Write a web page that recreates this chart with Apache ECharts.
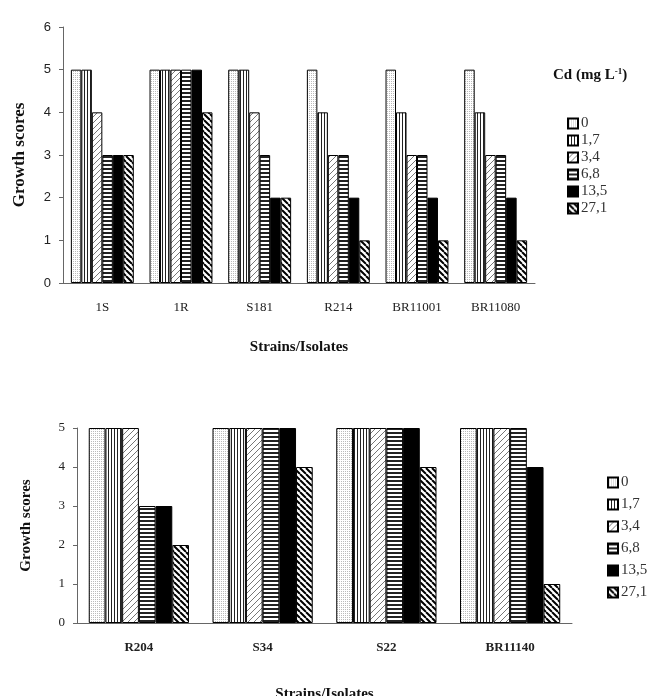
<!DOCTYPE html>
<html>
<head>
<meta charset="utf-8">
<script src="https://cdn.jsdelivr.net/npm/echarts@6/dist/echarts.min.js"></script>
<style>
	html, body { margin: 0; padding: 0; background: #fff; }
	#chart { width: 647px; height: 696px; }
</style>
</head>
<body>
<div id="chart"></div>
<script>
// Cd concentration levels (legend)
var levels = ['0', '1,7', '3,4', '6,8', '13,5', '27,1'];

// upper panel
var topCats = ['1S', '1R', 'S181', 'R214', 'BR11001', 'BR11080'];
var top_0    = [5, 5, 5, 5, 5, 5];
var top_1_7  = [5, 5, 5, 4, 4, 4];
var top_3_4  = [4, 5, 4, 3, 3, 3];
var top_6_8  = [3, 5, 3, 3, 3, 3];
var top_13_5 = [3, 5, 2, 2, 2, 2];
var top_27_1 = [3, 4, 2, 1, 1, 1];
var topTicks = [0, 1, 2, 3, 4, 5, 6];

// lower panel
var botCats = ['R204', 'S34', 'S22', 'BR11140'];
var bot_0    = [5, 5, 5, 5];
var bot_1_7  = [5, 5, 5, 5];
var bot_3_4  = [5, 5, 5, 5];
var bot_6_8  = [3, 5, 5, 5];
var bot_13_5 = [3, 5, 5, 4];
var bot_27_1 = [2, 4, 4, 1];
var botTicks = [0, 1, 2, 3, 4, 5];

var topSeries = [top_0, top_1_7, top_3_4, top_6_8, top_13_5, top_27_1];
var botSeries = [bot_0, bot_1_7, bot_3_4, bot_6_8, bot_13_5, bot_27_1];

// fill patterns
function pat(w, h, draw)
{
	var c = document.createElement('canvas');
	c.width = w; c.height = h;
	var g = c.getContext('2d');
	g.fillStyle = '#fff';
	g.fillRect(0, 0, w, h);
	draw(g, w, h);
	return { image: c, repeat: 'repeat' };
}

function diag(g, n, forward, color, lw)
{
	g.strokeStyle = color;
	g.lineWidth = lw;
	g.beginPath();
	for (var k = -1; k <= 1; k++)
	{
		if (forward) { g.moveTo(k * n, n); g.lineTo(k * n + n, 0); }
		else { g.moveTo(k * n, 0); g.lineTo(k * n + n, n); }
	}
	g.stroke();
}

var fills = [
	pat(2, 2, function(g) { g.fillStyle = '#bbb'; g.fillRect(1, 1, 1, 1); }),
	pat(3, 1, function(g) { g.fillStyle = '#222'; g.fillRect(0, 0, 1, 1); }),
	pat(6, 6, function(g) { diag(g, 6, true, '#777', 1); }),
	pat(1, 4, function(g) { g.fillStyle = '#222'; g.fillRect(0, 0, 1, 2); }),
	'#000',
	pat(6, 6, function(g) { diag(g, 6, false, '#000', 2); })
];

var serif = '"Liberation Serif", "DejaVu Serif", serif';
var sans = '"Liberation Sans", Arial, sans-serif';

var series = [];
levels.forEach(function(lv, i)
{
	series.push({
		name: lv, type: 'bar', xAxisIndex: 0, yAxisIndex: 0,
		barGap: '0%', barCategoryGap: '20%',
		itemStyle: { color: fills[i], borderColor: '#000', borderWidth: 1 },
		data: topSeries[i]
	});
});
levels.forEach(function(lv, i)
{
	series.push({
		name: lv, type: 'bar', xAxisIndex: 1, yAxisIndex: 1,
		barGap: '0%', barCategoryGap: '19%',
		itemStyle: { color: fills[i], borderColor: '#000', borderWidth: 1 },
		data: botSeries[i]
	});
});

var chart = echarts.init(document.getElementById('chart'), null, { renderer: 'canvas' });

chart.setOption({
	animation: false,
	backgroundColor: '#fff',
	title: {
		left: 548, top: 62,
		text: '{a|Cd (mg L}{s|-1}{a|)}',
		textStyle: {
			rich: {
				a: { fontFamily: serif, fontWeight: 'bold', fontSize: 15, color: '#111' },
				s: { fontFamily: serif, fontWeight: 'bold', fontSize: 9, color: '#111', verticalAlign: 'top', padding: [0, 0, 8, 0] }
			}
		}
	},
	legend: [
		{
			data: levels, orient: 'vertical', left: 562, top: 111, icon: 'rect',
			itemWidth: 10, itemHeight: 10, itemGap: 2,
			textStyle: { fontFamily: serif, fontSize: 15, color: '#333', padding: [0, 0, 0, -2] },
			selectedMode: false
		},
		{
			data: levels, orient: 'vertical', left: 602, top: 470, icon: 'rect',
			itemWidth: 10, itemHeight: 10, itemGap: 7,
			textStyle: { fontFamily: serif, fontSize: 15, color: '#333', padding: [0, 0, 0, -2] },
			selectedMode: false
		}
	],
	grid: [
		{ left: 63, right: 112, top: 27, bottom: 413, outerBoundsMode: 'none', containLabel: false },
		{ left: 77, right: 75, top: 428, bottom: 73, outerBoundsMode: 'none', containLabel: false }
	],
	xAxis: [
		{
			gridIndex: 0, type: 'category', data: topCats,
			axisLine: { lineStyle: { color: '#666' } },
			axisTick: { length: 5, lineStyle: { color: '#666' } },
			axisLabel: { fontFamily: serif, fontSize: 13, color: '#222', margin: 18 },
			name: 'Strains/Isolates', nameLocation: 'middle', nameGap: 57,
			nameTextStyle: { fontFamily: serif, fontWeight: 'bold', fontSize: 15, color: '#111' }
		},
		{
			gridIndex: 1, type: 'category', data: botCats,
			axisLine: { lineStyle: { color: '#666' } },
			axisTick: { length: 5, lineStyle: { color: '#666' } },
			axisLabel: { fontFamily: serif, fontWeight: 'bold', fontSize: 13, color: '#222', margin: 18 },
			name: 'Strains/Isolates', nameLocation: 'middle', nameGap: 64,
			nameTextStyle: { fontFamily: serif, fontWeight: 'bold', fontSize: 15, color: '#111' }
		}
	],
	yAxis: [
		{
			gridIndex: 0, type: 'value', min: topTicks[0], max: topTicks[topTicks.length - 1], interval: 1,
			splitLine: { show: false },
			axisLine: { show: true, lineStyle: { color: '#666' } },
			axisTick: { show: true, length: 4, lineStyle: { color: '#666' } },
			axisLabel: { fontFamily: sans, fontSize: 13, color: '#222', margin: 12 },
			name: 'Growth scores', nameLocation: 'middle', nameGap: 35,
			nameTextStyle: { fontFamily: serif, fontWeight: 'bold', fontSize: 17, color: '#111' }
		},
		{
			gridIndex: 1, type: 'value', min: botTicks[0], max: botTicks[botTicks.length - 1], interval: 1,
			splitLine: { show: false },
			axisLine: { show: true, lineStyle: { color: '#666' } },
			axisTick: { show: true, length: 4, lineStyle: { color: '#666' } },
			axisLabel: { fontFamily: serif, fontSize: 13, color: '#222', margin: 12 },
			name: 'Growth scores', nameLocation: 'middle', nameGap: 43,
			nameTextStyle: { fontFamily: serif, fontWeight: 'bold', fontSize: 15, color: '#111' }
		}
	],
	series: series
});
</script>
</body>
</html>
